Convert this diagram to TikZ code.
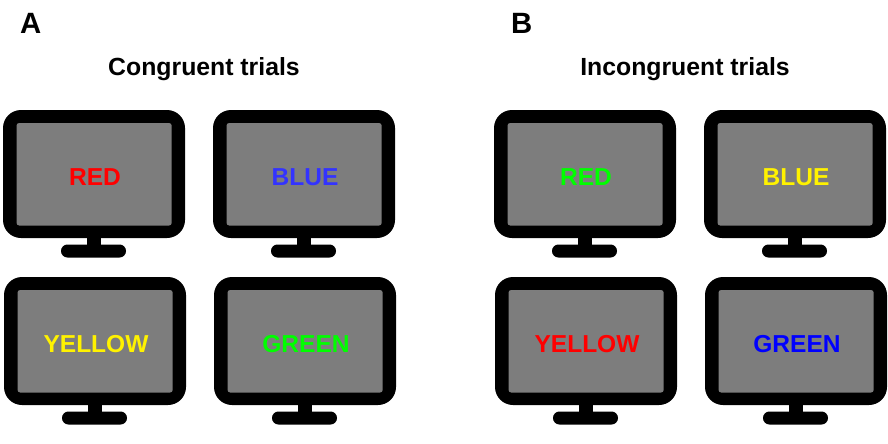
\documentclass[tikz,border=0pt]{standalone}
\usepackage{fontspec}
\setmainfont{Liberation Sans}
\definecolor{screengray}{RGB}{125,125,125}
\definecolor{wordblue}{RGB}{51,51,255}
\tikzset{every picture/.style={line width=0.75pt}}
\tikzset{
  casing/.style={fill=black,rounded corners=13.5pt},
  screen/.style={fill=screengray,rounded corners=2pt},
  foot/.style={fill=black,rounded corners=4.8pt},
  word/.style={anchor=base,inner sep=0pt,font=\bfseries\fontsize{18.4}{18}\selectfont},
  heading/.style={anchor=base,inner sep=0pt,font=\bfseries\fontsize{18.6}{18}\selectfont},
  panel/.style={anchor=base west,inner sep=0pt,font=\bfseries\fontsize{22}{22}\selectfont}
}

\begin{document}
\begin{tikzpicture}[x=0.75pt,y=0.75pt,yscale=-1,xscale=1]
\useasboundingbox (0,0) rectangle (888,443);

% Panel letters and headings
\node[panel] (panelA) at (19.5,33) {A};
\node[panel] (panelB) at (510.5,33) {B};
\node[heading] (titleA) at (204,75.5) {Congruent trials};
\node[heading] (titleB) at (685,75.5) {Incongruent trials};

% Monitors
\foreach \mx/\my/\nm/\lbl/\col in {
  3/110/red/RED/red,
  213/110/blue/BLUE/wordblue,
  4/277/yellow/YELLOW/yellow,
  214/277/green/GREEN/green,
  494/110/redB/RED/green,
  704/110/blueB/BLUE/yellow,
  495/277/yellowB/YELLOW/red,
  705/277/greenB/GREEN/blue}{
  \begin{scope}[shift={(\mx,\my)}]
    \fill (84,125) rectangle (98,140);
    \path[foot] (58,134.5) rectangle (123,147.5);
    \path[casing] (0,0) rectangle (182,128);
    \path[screen] (13.5,13) rectangle (168.7,115.5);
    \node[word,text=\col] (\nm) at (92,75.5) {\lbl};
  \end{scope}
}
\end{tikzpicture}
\end{document}
